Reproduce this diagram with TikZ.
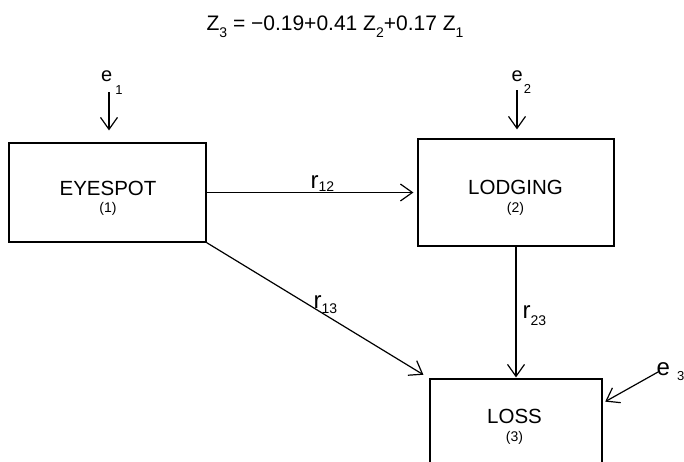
\documentclass[tikz,border=0pt]{standalone}
\usepackage{fontspec}
\setmainfont{Liberation Sans}
\usetikzlibrary{arrows.meta,calc}
\newcommand\mysubsc[2]{\raisebox{#1}{\fontsize{14}{14}\selectfont #2}}
\newcommand\myrlab[2]{{\fontsize{24}{24}\selectfont r}\raisebox{#1}{\fontsize{14}{14}\selectfont #2}}
\newcommand\myelab[5]{{\fontsize{#1}{#1}\selectfont e}\hspace{#2}\raisebox{#3}{\fontsize{#4}{#4}\selectfont #5}}
\begin{document}
\begin{tikzpicture}[x=1pt,y=-1pt,
  box/.style={draw, line width=1.2pt, rectangle, inner sep=0pt},
  arr/.style={line width=1.2pt, -{Straight Barb[length=12pt,width=17pt,line width=1.2pt]}},
  lbl/.style={inner sep=0pt, anchor=base west},
  txt/.style={inner sep=0pt, anchor=base, font=\fontsize{20.5}{20.5}\selectfont},
  num/.style={inner sep=0pt, anchor=base, font=\fontsize{14}{14}\selectfont}]
\useasboundingbox (0,0) rectangle (684,461);
\clip (0,0) rectangle (684,461);
\fill[white] (0,0) rectangle (684,461);

% boxes
\node[box, minimum width=197pt, minimum height=99pt] (eye) at (107.5,192.5) {};
\node[box, minimum width=196pt, minimum height=107pt] (lodg) at (516,192.5) {};
\node[box, minimum width=172pt, minimum height=112pt] (loss) at (516,435) {};

% box texts
\node[txt] (eyet) at (108,195) {EYESPOT};
\node[num] (eyen) at (108,212) {(1)};
\node[txt] (lodgt) at (515.5,194) {LODGING};
\node[num] (lodgn) at (515.5,212) {(2)};
\node[txt] (losst) at (514.5,423) {LOSS};
\node[num] (lossn) at (514.5,441) {(3)};

% equation
\node[inner sep=0pt, anchor=base, font=\fontsize{21}{21}\selectfont] (eq) at (335,30)
  {Z\mysubsc{-7pt}{3} = −0.19+0.41 Z\mysubsc{-7pt}{2}+0.17 Z\mysubsc{-7pt}{1}};

% connectors
\coordinate (e1s) at (109,92);
\coordinate (e2s) at (517,90);
\coordinate (e3s) at (658,372);
\draw[arr, shorten >=12pt] (e1s) -- (e1s |- eye.north);
\draw[arr, shorten >=9pt] (e2s) -- (e2s |- lodg.north);
\draw[arr, shorten >=4pt] (eye.east) -- (lodg.west |- eye.east);
\draw[arr, shorten >=1pt] (lodg.south) -- (loss.north);
\draw[arr, shorten >=7pt] (eye.south east) -- (loss.north west);
\draw[arr, shorten >=3pt] (e3s) -- ($(loss.north east)+(0,24.7)$);

% labels
\node[lbl] (r12) at (310.5,188) {\myrlab{-3pt}{12}};
\node[lbl] (r13) at (313.5,308) {\myrlab{-5pt}{13}};
\node[lbl] (r23) at (522.5,318) {\myrlab{-7pt}{23}};
\node[lbl] (e1) at (101,81.5) {\myelab{20}{3pt}{-13pt}{13}{1}};
\node[lbl] (e2) at (511.5,81) {\myelab{20}{1pt}{-12pt}{13}{2}};
\node[lbl] (e3) at (656.5,375) {\myelab{24}{7pt}{-5pt}{13}{3}};
\end{tikzpicture}
\end{document}
